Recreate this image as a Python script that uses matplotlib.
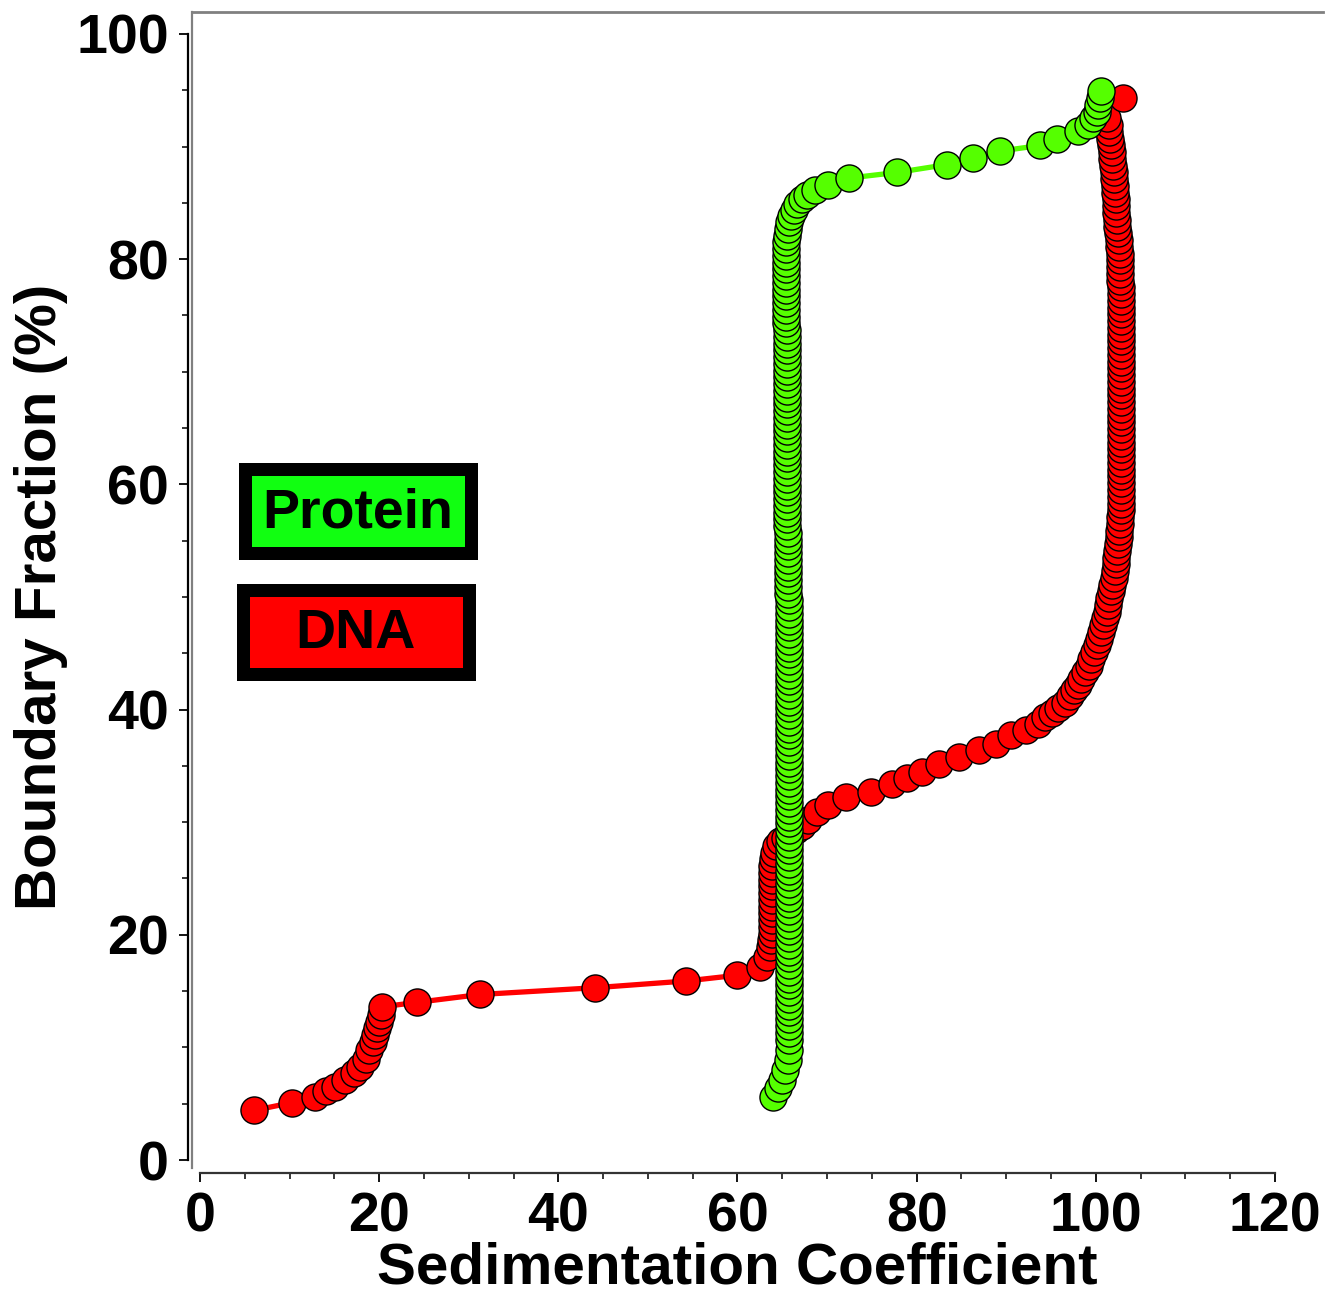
"""Boundary fraction vs sedimentation coefficient for protein and DNA."""

import matplotlib
matplotlib.use("Agg")
import matplotlib.pyplot as plt
from matplotlib.patches import Rectangle
from matplotlib.lines import Line2D

# --- data ------------------------------------------------------------------
DNA_X = [
    6.0, 10.3, 12.8, 14.1, 15.1, 16.2, 17.2, 17.9, 18.5, 18.9,
    19.3, 19.5, 19.8, 20.0, 20.2, 20.3, 24.2, 31.3, 44.1, 54.3,
    59.9, 62.5, 63.3, 63.6,
    63.7, 63.8, 63.8, 63.8, 63.8, 63.8, 63.8, 63.8, 63.8, 63.8,
    63.9, 63.9, 64.0, 64.1, 64.3, 64.7, 65.3, 65.9, 66.5, 67.2,
    67.9, 68.9, 70.1, 72.1, 74.9, 77.2, 78.9, 80.6, 82.5, 84.7,
    87.0, 88.9, 90.5, 92.2, 93.5, 94.3, 95.1, 95.8, 96.6, 97.1,
    97.6, 98.0, 98.4, 98.8, 99.2, 99.5, 99.8, 100.1, 100.3, 100.6,
    100.8, 101.0, 101.2, 101.4, 101.5, 101.7, 101.8, 102.0, 102.1, 102.2,
    102.3, 102.4, 102.5, 102.6, 102.6, 102.7, 102.7, 102.8, 102.8, 102.8, 102.8,
    102.8, 102.8, 102.8, 102.8, 102.8, 102.8, 102.8, 102.8, 102.8, 102.8,
    102.8, 102.8, 102.8, 102.8, 102.8, 102.8, 102.8, 102.8, 102.8, 102.8,
    102.8, 102.8, 102.8, 102.8, 102.8, 102.8, 102.8, 102.8, 102.8, 102.8,
    102.7, 102.7, 102.7, 102.7, 102.7, 102.6, 102.6,
    102.5, 102.4, 102.4, 102.3, 102.3,
    102.2, 102.1, 102.1, 102.0, 102.0,
    101.9, 101.8, 101.8,
    101.7, 101.6, 101.5, 101.5,
    101.3, 103.0,
]
DNA_Y = [
    4.4, 5.1, 5.6, 6.1, 6.5, 7.1, 7.7, 8.3, 9.0, 9.8,
    10.5, 11.1, 11.7, 12.3, 12.9, 13.6, 14.0, 14.7, 15.3, 15.9,
    16.4, 17.1, 18.0, 18.9,
    19.5, 20.1, 20.7, 21.3, 21.9, 22.5, 23.1, 23.7, 24.3, 24.9,
    25.5, 26.1, 26.7, 27.3, 27.9, 28.3, 28.6, 28.9, 29.3, 29.7,
    30.2, 30.9, 31.5, 32.2, 32.7, 33.4, 33.9, 34.5, 35.2, 35.8,
    36.4, 36.9, 37.7, 38.2, 38.7, 39.3, 39.7, 40.1, 40.6, 41.2,
    41.7, 42.2, 42.7, 43.3, 43.9, 44.5, 45.1, 45.7, 46.3, 46.9,
    47.5, 48.1, 48.7, 49.3, 49.9, 50.5, 51.1, 51.7, 52.3, 52.9,
    53.5, 54.1, 54.7, 55.3, 55.9, 56.5, 57.1, 57.7, 58.3, 58.9, 59.5,
    60.1, 60.7, 61.3, 61.9, 62.5, 63.1, 63.7, 64.3, 64.9, 65.5,
    66.1, 66.7, 67.3, 67.9, 68.5, 69.1, 69.7, 70.3, 70.9, 71.5,
    72.1, 72.7, 73.3, 73.9, 74.5, 75.1, 75.7, 76.3, 76.9, 77.5,
    78.1, 78.7, 79.3, 79.9, 80.5, 81.1, 81.7,
    82.3, 82.9, 83.5, 84.1, 84.7,
    85.3, 85.9, 86.5, 87.1, 87.7,
    88.3, 88.9, 89.5,
    90.1, 90.7, 91.3, 91.9,
    92.5, 94.3,
]

PROTEIN_X = [
    64.0, 64.5, 65.0, 65.3, 65.6, 65.7,
    # vertical run, y 10.7 .. 49.7
    65.7, 65.7, 65.7, 65.7, 65.7, 65.7, 65.7, 65.7, 65.7, 65.7,
    65.7, 65.7, 65.7, 65.7, 65.7, 65.7, 65.7, 65.7, 65.7, 65.7,
    65.7, 65.7, 65.7, 65.7, 65.7, 65.7, 65.7, 65.7, 65.7, 65.7,
    65.7, 65.7, 65.7, 65.7, 65.7, 65.7, 65.7, 65.7, 65.7, 65.7,
    65.7, 65.7, 65.7, 65.7, 65.7, 65.7, 65.7, 65.7, 65.7, 65.7,
    65.7, 65.7, 65.7, 65.7, 65.7, 65.7, 65.7, 65.7, 65.7, 65.7,
    65.7, 65.7, 65.7, 65.7, 65.7, 65.7,
    # y 50.3 .. 55.7
    65.6, 65.6, 65.6, 65.6, 65.6, 65.6, 65.6, 65.6, 65.6, 65.6,
    # y 56.3 .. 73.7
    65.5, 65.5, 65.5, 65.5, 65.5, 65.5, 65.5, 65.5, 65.5, 65.5,
    65.5, 65.5, 65.5, 65.5, 65.5, 65.5, 65.5, 65.5, 65.5, 65.5,
    65.5, 65.5, 65.5, 65.5, 65.5, 65.5, 65.5, 65.5, 65.5, 65.5,
    # y 74.3 .. 81.5
    65.4, 65.4, 65.4, 65.4, 65.4, 65.4, 65.4, 65.4, 65.4, 65.4,
    65.4, 65.4, 65.4,
    # bend and upper plateau
    65.5, 65.6, 65.8, 66.0, 66.3, 66.7, 67.2, 67.8, 68.6, 70.1,
    72.4, 77.8, 83.4, 86.3, 89.3, 93.8, 95.7, 98.0, 99.1, 99.7,
    100.1, 100.2, 100.5, 100.6,
]
PROTEIN_Y = [
    5.6, 6.4, 7.1, 8.0, 8.9, 9.8,
    10.7, 11.3, 11.9, 12.5, 13.1, 13.7, 14.3, 14.9, 15.5, 16.1,
    16.7, 17.3, 17.9, 18.5, 19.1, 19.7, 20.3, 20.9, 21.5, 22.1,
    22.7, 23.3, 23.9, 24.5, 25.1, 25.7, 26.3, 26.9, 27.5, 28.1,
    28.7, 29.3, 29.9, 30.5, 31.1, 31.7, 32.3, 32.9, 33.5, 34.1,
    34.7, 35.3, 35.9, 36.5, 37.1, 37.7, 38.3, 38.9, 39.5, 40.1,
    40.7, 41.3, 41.9, 42.5, 43.1, 43.7, 44.3, 44.9, 45.5, 46.1,
    46.7, 47.3, 47.9, 48.5, 49.1, 49.7,
    50.3, 50.9, 51.5, 52.1, 52.7, 53.3, 53.9, 54.5, 55.1, 55.7,
    56.3, 56.9, 57.5, 58.1, 58.7, 59.3, 59.9, 60.5, 61.1, 61.7,
    62.3, 62.9, 63.5, 64.1, 64.7, 65.3, 65.9, 66.5, 67.1, 67.7,
    68.3, 68.9, 69.5, 70.1, 70.7, 71.3, 71.9, 72.5, 73.1, 73.7,
    74.3, 74.9, 75.5, 76.1, 76.7, 77.3, 77.9, 78.5, 79.1, 79.7,
    80.3, 80.9, 81.5,
    82.1, 82.7, 83.3, 83.8, 84.4, 84.9, 85.3, 85.7, 86.1, 86.6,
    87.2, 87.7, 88.4, 89.0, 89.6, 90.1, 90.7, 91.4, 91.9, 92.5,
    93.1, 93.7, 94.3, 94.9,
]

X_TICKS = [0, 20, 40, 60, 80, 100, 120]
Y_TICKS = [0, 20, 40, 60, 80, 100]
X_MINOR = [5, 10, 15, 25, 30, 35, 45, 50, 55, 65, 70, 75, 85, 90, 95, 105, 110, 115]
Y_MINOR = [5, 10, 15, 25, 30, 35, 45, 50, 55, 65, 70, 75, 85, 90, 95]

RED = "#ff0000"
GREEN = "#55ff00"
LEGEND_GREEN = "#11ff11"

W, H = 1330, 1298

plt.rcParams["font.family"] = ["Liberation Sans", "DejaVu Sans"]
plt.rcParams["font.weight"] = "bold"


def fig_xy(px, py):
    return px / W, 1 - py / H


def main() -> None:
    fig = plt.figure(figsize=(W / 100, H / 100), dpi=100)
    ax = fig.add_axes([192 / W, 1 - 1168 / H, (1323 - 192) / W, (1168 - 12) / H])

    ax.plot(DNA_X, DNA_Y, "-o", color=RED, lw=3.8, ms=19.5, mfc=RED, mec="black", mew=1.0)
    ax.plot(PROTEIN_X, PROTEIN_Y, "-o", color=GREEN, lw=3.8, ms=19.5, mfc=GREEN, mec="black", mew=1.0)

    ax.set_xlim(-0.89, 125.36)
    ax.set_ylim(-0.71, 101.95)

    # offset axes like the original plotting package
    ax.spines["right"].set_visible(False)
    ax.spines["top"].set_color("#808080")
    ax.spines["top"].set_linewidth(2.0)
    ax.spines["left"].set_position(("outward", 3))
    ax.spines["left"].set_bounds(0, 100)
    ax.spines["left"].set_linewidth(1.6)
    ax.spines["bottom"].set_position(("outward", 3.6))
    ax.spines["bottom"].set_bounds(0, 120)
    ax.spines["bottom"].set_linewidth(1.6)
    ax.spines["bottom"].set_color("#333333")
    ax.add_line(Line2D([0, 0], [0, 1], transform=ax.transAxes, color="#808080",
                       lw=1.6, clip_on=False))

    ax.set_xticks(X_TICKS)
    ax.set_yticks(Y_TICKS)
    ax.set_xticks(X_MINOR, minor=True)
    ax.set_yticks(Y_MINOR, minor=True)
    ax.tick_params(which="major", direction="out", length=6.5, width=1.3, labelsize=40, pad=7)
    ax.tick_params(which="minor", direction="out", length=4, width=1.1)
    for lab in ax.get_xticklabels() + ax.get_yticklabels():
        lab.set_fontweight("bold")

    ax.set_xlabel("Sedimentation Coefficient", fontsize=42, fontweight="bold")
    ax.xaxis.set_label_coords((737 - 192) / (1323 - 192), (1168 - 1242) / (1168 - 12))
    ax.set_ylabel("Boundary Fraction (%)", fontsize=42, fontweight="bold")
    ax.yaxis.set_label_coords((68 - 192) / (1323 - 192), (1168 - 597) / (1168 - 12))

    # boxed legend entries
    for (x0, y0, x1, y1), face, label, (tx, ty) in [
        ((239, 463, 477, 559), LEGEND_GREEN, "Protein", (358, 513)),
        ((236, 583, 475, 680), RED, "DNA", (355, 634)),
    ]:
        bw = 13
        lx, ly = fig_xy(x0 + bw / 2, y1 - bw / 2)
        rw = (x1 - x0 - bw) / W
        rh = (y1 - y0 - bw) / H
        fig.add_artist(Rectangle((lx, ly), rw, rh, transform=fig.transFigure,
                                 facecolor=face, edgecolor="black", lw=bw * 0.72,
                                 joinstyle="miter"))
        tx_, ty_ = fig_xy(tx, ty)
        fig.text(tx_, ty_, label, fontsize=40, fontweight="bold", color="black",
                 ha="center", va="center")

    fig.savefig("out.png", dpi=100)
    plt.close(fig)


if __name__ == "__main__":
    main()
